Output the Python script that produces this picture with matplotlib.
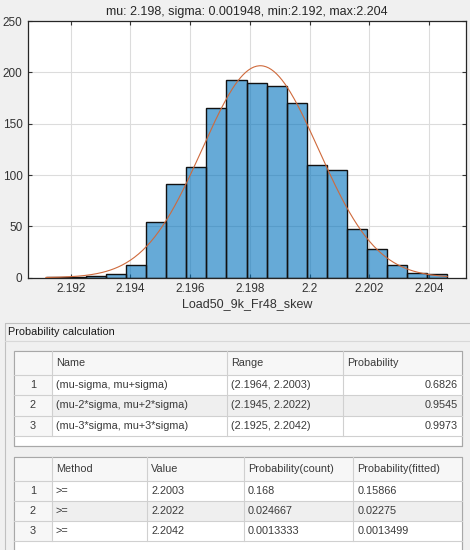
import numpy as np
import matplotlib.pyplot as plt
from matplotlib.patches import Rectangle

plt.rcParams['font.family'] = ['Liberation Sans', 'DejaVu Sans']

# histogram counts
counts = [1, 1, 2, 4, 12, 54, 91, 108, 165, 193, 190, 187, 170, 110, 105, 47, 28, 12, 5, 4]
bin_lo = 2.19117
bin_w = 0.000672

# fitted normal
mu = 2.19835
sigma = 0.001948
n_samples = 1500

title_txt = 'mu: 2.198, sigma: 0.001948, min:2.192, max:2.204'
x_label = 'Load50_9k_Fr48_skew'
xticks = [2.192, 2.194, 2.196, 2.198, 2.2, 2.202, 2.204]
xtick_labels = ['2.192', '2.194', '2.196', '2.198', '2.2', '2.202', '2.204']
yticks = [0, 50, 100, 150, 200, 250]

t1_cols = ['Name', 'Range', 'Probability']
t1_name = ['(mu-sigma, mu+sigma)', '(mu-2*sigma, mu+2*sigma)', '(mu-3*sigma, mu+3*sigma)']
t1_range = ['(2.1964, 2.2003)', '(2.1945, 2.2022)', '(2.1925, 2.2042)']
t1_prob = ['0.6826', '0.9545', '0.9973']

t2_cols = ['Method', 'Value', 'Probability(count)', 'Probability(fitted)']
t2_method = ['>=', '>=', '>=']
t2_value = ['2.2003', '2.2022', '2.2042']
t2_count = ['0.168', '0.024667', '0.0013333']
t2_fitted = ['0.15866', '0.02275', '0.0013499']

W, H = 470, 550
fig = plt.figure(figsize=(W / 100, H / 100), dpi=100, facecolor='#f0f0f0')

# ---- histogram axes ----
ax = fig.add_axes([28 / W, 1 - 277.7 / H, (466 - 28) / W, (277.7 - 21) / H])
edges = bin_lo + bin_w * np.arange(len(counts) + 1)
ax.bar(edges[:-1], counts, width=bin_w, align='edge', color='#0072bd', alpha=0.6,
       edgecolor='none', zorder=2)
ax.bar(edges[:-1], counts, width=bin_w, align='edge', facecolor='none',
       edgecolor='#111111', linewidth=1, zorder=3)
xs = np.linspace(edges[0], edges[-1], 300)
pdf = n_samples * bin_w / (sigma * np.sqrt(2 * np.pi)) * np.exp(-0.5 * ((xs - mu) / sigma) ** 2)
ax.plot(xs, pdf, color='#cf6a3c', lw=0.8, zorder=4)

ax.set_xlim(2.19057, 2.20524)
ax.set_ylim(0, 250)
ax.set_xticks(xticks)
ax.set_xticklabels(xtick_labels)
ax.set_yticks(yticks)
ax.grid(True, color='#dcdcdc', lw=0.8, zorder=0)
ax.set_axisbelow(True)
ax.tick_params(direction='in', top=True, right=True, labelsize=8.5, colors='#333333',
               length=3, pad=4)
for s in ax.spines.values():
    s.set_color('#262626')
    s.set_linewidth(0.9)
ax.set_title(title_txt, fontsize=9, color='#262626', pad=4)
ax.set_xlabel(x_label, fontsize=9, color='#333333', labelpad=2)

# ---- panel with tables (pixel coords) ----
pa = fig.add_axes([0, 0, 1, 1], facecolor='none')
pa.set_xlim(0, W)
pa.set_ylim(H, 0)
pa.axis('off')

pa.plot([5, 5, W], [H, 323, 323], color='#c0c0c0', lw=0.8)
pa.plot([5, W], [341, 341], color='#d8d8d8', lw=0.8)
pa.text(8, 332, 'Probability calculation', fontsize=7.8, color='#1a1a1a', va='center')

fs = 7.8
tc = '#3a3a3a'

def draw_table(top, col_x, head, rows, aligns, row_h, head_h, bottom):
    x0, x1 = col_x[0], col_x[-1]
    pa.add_patch(Rectangle((x0, top), x1 - x0, bottom - top, facecolor='white',
                           edgecolor='#a8a8a8', lw=0.8))
    # header
    pa.add_patch(Rectangle((x0, top), x1 - x0, head_h, facecolor='#f7f7f7', edgecolor='none'))
    for i, h in enumerate(head):
        pa.text(col_x[i + 1] + 4, top + head_h / 2, h, fontsize=fs, color=tc, va='center')
    y = top + head_h
    pa.plot([x0, x1], [y, y], color='#d0d0d0', lw=0.8)
    for r, row in enumerate(rows):
        bg = '#efefef' if r == 1 else 'white'
        pa.add_patch(Rectangle((col_x[1], y), x1 - col_x[1], row_h, facecolor=bg, edgecolor='none'))
        pa.add_patch(Rectangle((x0, y), col_x[1] - x0, row_h, facecolor='#f7f7f7', edgecolor='none'))
        pa.text((x0 + col_x[1]) / 2, y + row_h / 2, str(r + 1), fontsize=fs, color=tc,
                va='center', ha='center')
        for c, val in enumerate(row):
            if aligns[c] == 'right':
                pa.text(col_x[c + 2] - 4, y + row_h / 2, val, fontsize=fs, color=tc,
                        va='center', ha='right')
            else:
                pa.text(col_x[c + 1] + 4, y + row_h / 2, val, fontsize=fs, color=tc,
                        va='center', ha='left')
        y += row_h
        pa.plot([x0, x1], [y, y], color='#d0d0d0', lw=0.8)
    for cx in col_x[1:-1]:
        pa.plot([cx, cx], [top, y], color='#d0d0d0', lw=0.8)
    pa.add_patch(Rectangle((x0, top), x1 - x0, bottom - top, facecolor='none',
                           edgecolor='#a8a8a8', lw=0.8))

rows1 = list(zip(t1_name, t1_range, t1_prob))
draw_table(350.7, [14.3, 51.7, 226.7, 343.3, 461.7], t1_cols, rows1,
           ['left', 'left', 'right'], 20.3, 24.3, 446)
rows2 = list(zip(t2_method, t2_value, t2_count, t2_fitted))
draw_table(456.7, [14.3, 51.7, 147.3, 244, 353.3, 461.7], t2_cols, rows2,
           ['left', 'left', 'left', 'left'], 20, 24.3, 560)

fig.savefig('out.png', dpi=100, facecolor=fig.get_facecolor())
